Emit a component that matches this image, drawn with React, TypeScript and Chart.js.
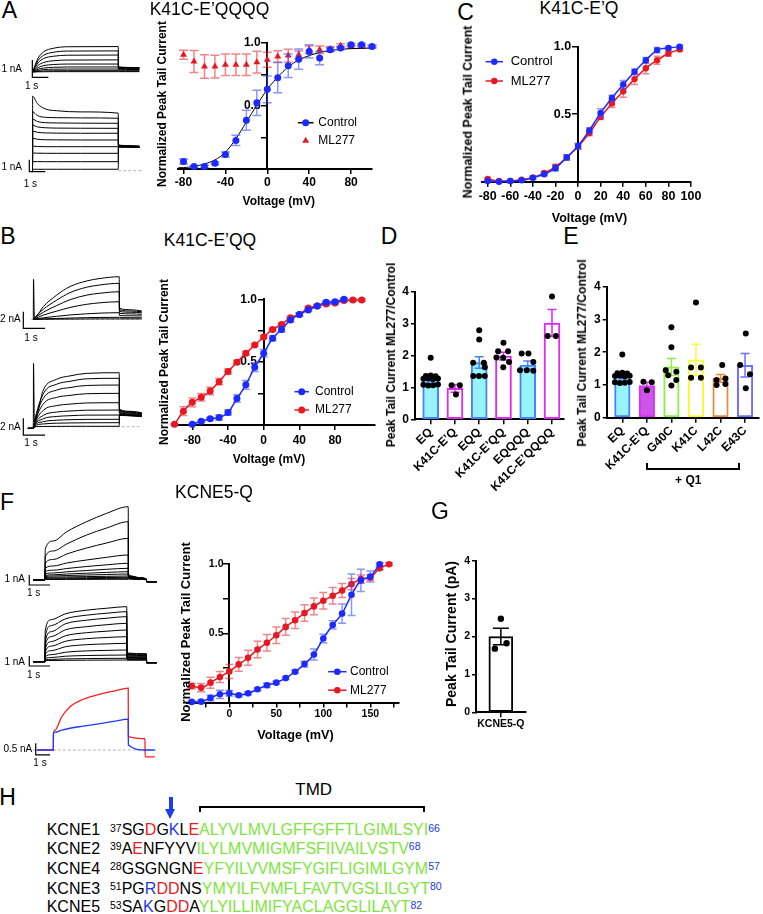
import React, { useEffect, useRef } from 'react';
import { Chart, registerables } from 'chart.js';

Chart.register(...registerables);

const FONT = '"Liberation Sans", Arial, Helvetica, sans-serif';
Chart.defaults.font.family = FONT;

const BLUE = 'rgb(28, 42, 255)';
const BLUE_ERR = 'rgba(60, 80, 255, 0.6)';
const RED = 'rgb(232, 24, 34)';
const RED_ERR = 'rgba(235, 50, 60, 0.6)';

// ---------------- Panel A ----------------
const A_V = [-80, -70, -60, -50, -40, -30, -20, -10, 0, 10, 20, 30, 40, 50, 60, 70, 80, 90, 100];
const A_CONTROL = [0.06, 0.02, 0.02, 0.045, 0.115, 0.227, 0.387, 0.525, 0.632, 0.725, 0.82, 0.872, 0.933, 0.88, 0.947, 0.96, 0.987, 0.987, 0.973];
const A_CONTROL_SEM = [0.02, 0.008, 0.01, 0.01, 0.02, 0.04, 0.08, 0.1, 0.107, 0.12, 0.093, 0.08, 0.053, 0.053, 0.015, 0.012, 0.01, 0.01, 0.01];
const A_ML277 = [0.907, 0.853, 0.813, 0.813, 0.827, 0.827, 0.827, 0.848, 0.867, 0.893, 0.9, 0.907, 0.947, 0.947, 0.953, 0.979, 0.97, 0.97, 0.97];
const A_ML277_SEM = [0.035, 0.088, 0.093, 0.09, 0.085, 0.085, 0.085, 0.087, 0.06, 0.045, 0.05, 0.03, 0.03, 0.03, 0.02, 0.015, 0.01, 0.01, 0.01];
const A_FIT_V = [-85, -80, -70, -60, -50, -40, -30, -20, -10, 0, 10, 20, 30, 40, 50, 60, 70, 80, 90, 100];
const A_FIT = [0.01, 0.011, 0.021, 0.04, 0.072, 0.133, 0.24, 0.373, 0.507, 0.632, 0.73, 0.81, 0.865, 0.9, 0.925, 0.94, 0.95, 0.955, 0.958, 0.96];
const A_X_TICKS = [-80, -40, 0, 40, 80];
const A_X_LABELS = ['-80', '-40', '0', '40', '80'];

// ---------------- Panel B ----------------
const B_CONTROL_V = [-80, -70, -60, -50, -40, -30, -20, -10, 0, 10, 20, 30, 40, 50, 60, 70, 80, 90];
const B_CONTROL = [0.005, 0.03, 0.05, 0.06, 0.1, 0.21, 0.32, 0.46, 0.57, 0.69, 0.76, 0.835, 0.88, 0.915, 0.947, 0.976, 0.98, 1.0];
const B_CONTROL_SEM = [0.005, 0.01, 0.01, 0.02, 0.02, 0.03, 0.035, 0.035, 0.03, 0.02, 0.02, 0.015, 0.01, 0.01, 0.01, 0.01, 0.01, 0.01];
const B_ML277_V = [-100, -90, -80, -70, -60, -50, -40, -30, -20, -10, 0, 10, 20, 30, 40, 50, 60, 70, 80, 90, 100, 110];
const B_ML277 = [0.005, 0.11, 0.18, 0.22, 0.27, 0.345, 0.425, 0.5, 0.57, 0.636, 0.7, 0.76, 0.8, 0.853, 0.88, 0.93, 0.947, 0.962, 0.97, 0.99, 0.995, 0.995];
const B_ML277_SEM = [0.005, 0.035, 0.035, 0.03, 0.03, 0.025, 0.02, 0.015, 0.015, 0.01, 0.01, 0.01, 0.01, 0.01, 0.01, 0.01, 0.01, 0.01, 0.01, 0.01, 0.01, 0.01];
const B_X_TICKS = [-80, -40, 0, 40, 80];
const B_X_LABELS = ['-80', '-40', '0', '40', '80'];

// ---------------- Panel C ----------------
const C_V = [-80, -70, -60, -50, -40, -30, -20, -10, 0, 10, 20, 30, 40, 50, 60, 70, 80, 90];
const C_CONTROL = [0.005, 0.0, 0.005, 0.01, 0.03, 0.055, 0.1, 0.18, 0.265, 0.38, 0.51, 0.62, 0.72, 0.815, 0.9, 0.975, 0.99, 1.0];
const C_CONTROL_SEM = [0.005, 0.005, 0.005, 0.005, 0.01, 0.01, 0.02, 0.02, 0.02, 0.02, 0.03, 0.02, 0.03, 0.02, 0.02, 0.02, 0.01, 0.01];
const C_ML277 = [0.02, 0.005, 0.005, 0.015, 0.03, 0.065, 0.11, 0.18, 0.26, 0.36, 0.48, 0.58, 0.67, 0.76, 0.84, 0.9, 0.95, 0.98];
const C_ML277_SEM = [0.01, 0.005, 0.005, 0.005, 0.01, 0.01, 0.02, 0.02, 0.02, 0.02, 0.02, 0.03, 0.045, 0.04, 0.04, 0.03, 0.02, 0.01];
const C_X_TICKS = [-80, -60, -40, -20, 0, 20, 40, 60, 80, 100];
const C_X_LABELS = ['-80', '-60', '-40', '-20', '0', '20', '40', '60', '80', '100'];

// ---------------- Panel F ----------------
const F_CONTROL_V = [-40, -30, -20, -10, 0, 10, 20, 30, 40, 50, 60, 70, 80, 90, 100, 110, 120, 130, 140, 150, 160];
const F_CONTROL = [0.005, 0.007, 0.034, 0.06, 0.067, 0.053, 0.067, 0.096, 0.125, 0.144, 0.177, 0.223, 0.278, 0.348, 0.463, 0.561, 0.643, 0.779, 0.883, 0.911, 1.0];
const F_CONTROL_SEM = [0.01, 0.01, 0.02, 0.03, 0.02, 0.01, 0.01, 0.01, 0.015, 0.01, 0.01, 0.01, 0.02, 0.04, 0.03, 0.03, 0.07, 0.15, 0.08, 0.04, 0.01];
const F_ML277_V = [-40, -30, -20, -10, 0, 10, 20, 30, 40, 50, 60, 70, 80, 90, 100, 110, 120, 130, 140, 150, 160, 170];
const F_ML277 = [0.12, 0.108, 0.144, 0.185, 0.225, 0.276, 0.324, 0.384, 0.432, 0.487, 0.547, 0.595, 0.647, 0.695, 0.736, 0.772, 0.81, 0.856, 0.892, 0.904, 0.97, 1.0];
const F_ML277_SEM = [0.02, 0.03, 0.04, 0.04, 0.05, 0.05, 0.055, 0.06, 0.06, 0.06, 0.06, 0.06, 0.06, 0.06, 0.06, 0.06, 0.05, 0.04, 0.03, 0.02, 0.01, 0.01];
const F_X_TICKS = [-25, 0, 25, 50, 75, 100, 125, 150, 175];
const F_X_LABELS = ['', '0', '', '50', '', '100', '', '150', ''];

const NORM_Y_TICKS = [0, 0.25, 0.5, 0.75, 1];
const NORM_Y_LABELS = ['', '', '0.5  ', '', '1.0  '];
const C_Y_TICKS = [0.5, 1];
const C_Y_LABELS = ['0.5  ', '1.0  '];

// ---------------- Panel D ----------------
const D_CATS = ['EQ', 'K41C-E\u2019Q', 'EQQ', 'K41C-E\u2019QQ', 'EQQQQ', 'K41C-E\u2019QQQQ'];
const D_MEANS = [1.25, 0.97, 1.78, 1.98, 1.7, 3.02];
const D_SEM = [0.07, 0.12, 0.18, 0.12, 0.13, 0.42];
const D_DOTS = [
  [0, 1.93], [-0.2, 1.36], [0, 1.37], [0.2, 1.35], [-0.3, 1.27], [-0.1, 1.29], [0.1, 1.26], [0.3, 1.28], [-0.3, 1.08], [-0.1, 1.06], [0.1, 1.07], [0.3, 1.09],
  [0.86, 1.07], [1.2, 1.07], [1.04, 0.78],
  [2, 2.79], [2, 2.5], [1.75, 1.77], [2.19, 1.77], [2.23, 1.63], [1.75, 1.36], [1.99, 1.36], [2.23, 1.36],
  [3, 2.4], [2.78, 2.13], [3.19, 2.13], [2.71, 1.94], [2.99, 1.93], [3.23, 1.8], [2.99, 1.63],
  [3.75, 2.06], [4.03, 2.06], [4.23, 1.8], [3.68, 1.54], [3.96, 1.54], [4.23, 1.52],
  [5, 3.85], [4.82, 2.61], [5.16, 2.61],
];

// ---------------- Panel E ----------------
const E_CATS = ['EQ', 'K41C-E\u2019Q', 'G40C', 'K41C', 'L42C', 'E43C'];
const E_MEANS = [1.26, 0.98, 1.55, 1.77, 1.2, 1.6];
const E_SEM = [0.07, 0.1, 0.26, 0.47, 0.12, 0.36];
const E_DOTS = [
  [0, 1.93], [-0.2, 1.36], [0, 1.37], [0.2, 1.35], [-0.3, 1.27], [-0.1, 1.29], [0.1, 1.26], [0.3, 1.28], [-0.3, 1.08], [-0.1, 1.06], [0.1, 1.07], [0.3, 1.09],
  [0.86, 1.1], [1.2, 1.08], [1.0, 0.84],
  [2, 2.76], [2, 2.15], [1.77, 1.45], [2.2, 1.4], [1.87, 1.3], [2.2, 1.15], [2, 0.98],
  [3, 3.52], [2.8, 1.53], [3.2, 1.53], [2.8, 1.22], [3.2, 1.22],
  [4.07, 1.61], [3.84, 1.15], [4.2, 1.2], [3.84, 1.0], [4.2, 1.03],
  [5.03, 2.57], [4.8, 1.61], [5.2, 1.33], [5.03, 0.9],
];
const BAR_Y_TICKS = [0, 1, 2, 3, 4];
const BAR_Y_LABELS = ['0', '1', '2', '3', '4'];

// ---------------- Panel G ----------------
const G_CATS = ['KCNE5-Q'];
const G_MEANS = [2.0];
const G_SEM = [0.22];
const G_DOTS = [[-0.24, 1.68], [0, 2.47], [0.23, 1.82]];

// ---------------- Current traces (time s, current nA) ----------------
const A_TOP_T = [0, 0.35, 0.7, 1.3, 2.2, 5.36, 5.37, 5.8, 6.68];
const A_TOP_SWEEPS = [
  [0, 0.8, 1.17, 1.37, 1.46, 1.47, 0.3, 0.27, 0.25],
  [0, 0.66, 0.97, 1.14, 1.21, 1.22, 0.29, 0.26, 0.24],
  [0, 0.53, 0.78, 0.91, 0.97, 0.98, 0.27, 0.25, 0.23],
  [0, 0.38, 0.55, 0.65, 0.69, 0.7, 0.25, 0.23, 0.21],
  [0, 0.25, 0.37, 0.43, 0.46, 0.46, 0.21, 0.2, 0.18],
  [0, 0.16, 0.23, 0.27, 0.29, 0.29, 0.16, 0.15, 0.14],
  [0, 0.09, 0.14, 0.16, 0.17, 0.17, 0.11, 0.1, 0.1],
  [0, 0.04, 0.06, 0.07, 0.075, 0.075, 0.06, 0.055, 0.05],
  [0, 0.01, 0.015, 0.02, 0.02, 0.02, 0.02, 0.02, 0.02],
];
const A_BOT_T = [0, 0.01, 0.3, 0.8, 1.5, 3, 5.36, 5.37, 5.8, 6.68];
const A_BOT_SWEEPS = [
  [0, 6.2, 5.6, 5.15, 5.0, 4.9, 4.8, 2.15, 2.1, 2.05],
  [0, 4.9, 4.6, 4.45, 4.42, 4.4, 4.37, 2.12, 2.08, 2.03],
  [0, 4.3, 4.1, 4.0, 3.98, 3.96, 3.95, 2.1, 2.06, 2.02],
  [0, 3.8, 3.65, 3.58, 3.55, 3.54, 3.53, 2.08, 2.05, 2.0],
  [0, 3.3, 3.2, 3.15, 3.13, 3.12, 3.12, 2.06, 2.03, 1.99],
  [0, 2.7, 2.62, 2.58, 2.57, 2.56, 2.56, 2.05, 2.02, 1.98],
  [0, 2.05, 2.02, 2.0, 2.0, 2.0, 2.0, 2.02, 2.0, 1.97],
  [0, 1.47, 1.46, 1.45, 1.45, 1.45, 1.45, 2.0, 1.98, 1.96],
  [0, 0.76, 0.76, 0.75, 0.75, 0.75, 0.75, 1.98, 1.97, 1.95],
  [0, 0.12, 0.12, 0.12, 0.12, 0.12, 0.12, 1.96, 1.96, 1.94],
];
const B_TOP_T = [0, 0.01, 0.05, 0.46, 1.08, 1.69, 2.46, 3.07, 3.96, 3.97, 4.5, 5.0];
const B_TOP_SWEEPS = [
  [0, 4.8, 0.2, 1.53, 2.91, 3.93, 4.6, 4.9, 5.11, 1.32, 1.15, 1.0],
  [0, 0, 0.15, 1.2, 2.3, 3.2, 3.85, 4.12, 4.32, 1.15, 1.0, 0.9],
  [0, 0, 0.1, 0.85, 1.65, 2.35, 2.9, 3.13, 3.31, 0.95, 0.85, 0.78],
  [0, 0, 0.05, 0.5, 0.98, 1.42, 1.8, 1.98, 2.11, 0.72, 0.65, 0.6],
  [0, 0, 0.02, 0.18, 0.36, 0.52, 0.66, 0.74, 0.79, 0.45, 0.42, 0.4],
  [0, 0, 0, 0.05, 0.1, 0.15, 0.2, 0.22, 0.24, 0.2, 0.19, 0.18],
  [0, 0, 0, 0.01, 0.02, 0.03, 0.04, 0.05, 0.05, 0.05, 0.05, 0.05],
];
const B_BOT_T = [-0.25, 0, 0.01, 0.05, 0.46, 1.08, 1.69, 2.46, 3.96, 3.97, 4.5, 5.0];
const B_BOT_SWEEPS = [
  [-0.2, -0.2, 7.6, 0.6, 4.4, 5.7, 6.1, 6.4, 6.48, 2.09, 1.85, 1.68],
  [-0.2, -0.2, -0.2, 0.5, 3.95, 5.1, 5.45, 5.75, 5.81, 2.0, 1.78, 1.62],
  [-0.2, -0.2, -0.2, 0.45, 3.4, 4.4, 4.7, 4.95, 5.0, 1.92, 1.72, 1.57],
  [-0.2, -0.2, -0.2, 0.35, 2.72, 3.52, 3.76, 3.96, 4.0, 1.82, 1.64, 1.5],
  [-0.2, -0.2, -0.2, 0.25, 1.96, 2.53, 2.71, 2.85, 2.88, 1.7, 1.55, 1.43],
  [-0.2, -0.2, -0.2, 0.18, 1.36, 1.76, 1.88, 1.98, 2.0, 1.6, 1.47, 1.37],
  [-0.2, -0.2, -0.2, 0.12, 0.95, 1.23, 1.32, 1.39, 1.4, 1.52, 1.41, 1.32],
  [-0.2, -0.2, -0.2, 0.08, 0.6, 0.78, 0.84, 0.88, 0.89, 1.45, 1.36, 1.28],
  [-0.2, -0.2, -0.2, 0.04, 0.33, 0.42, 0.45, 0.47, 0.48, 1.4, 1.32, 1.25],
  [-0.2, -0.2, -0.2, 0.0, 0.03, 0.04, 0.05, 0.05, 0.05, 1.35, 1.3, 1.22],
];
const F_TOP_T = [-0.58, 0, 0.01, 0.4, 1.05, 2.01, 2.98, 4.02, 4.03, 4.2, 4.5, 4.9, 4.91, 5.4];
const F_TOP_SWEEPS = [
  [0, 0, 3.07, 3.9, 4.83, 5.83, 6.67, 7.33, 0.6, 0.4, 0.25, 0.1, -0.17, -0.17],
  [0, 0, 2.33, 2.9, 3.6, 4.5, 5.2, 5.83, 0.55, 0.37, 0.23, 0.09, -0.17, -0.17],
  [0, 0, 1.67, 2.05, 2.6, 3.2, 3.7, 4.17, 0.5, 0.34, 0.21, 0.08, -0.17, -0.17],
  [0, 0, 1.17, 1.4, 1.7, 2.0, 2.27, 2.5, 0.45, 0.3, 0.19, 0.07, -0.17, -0.17],
  [0, 0, 0.83, 0.98, 1.15, 1.35, 1.52, 1.67, 0.4, 0.28, 0.17, 0.07, -0.17, -0.17],
  [0, 0, 0.6, 0.7, 0.82, 0.95, 1.07, 1.17, 0.36, 0.25, 0.15, 0.06, -0.17, -0.17],
  [0, 0, 0.45, 0.52, 0.6, 0.68, 0.76, 0.83, 0.32, 0.22, 0.13, 0.06, -0.17, -0.17],
  [0, 0, 0.35, 0.4, 0.45, 0.5, 0.55, 0.6, 0.28, 0.19, 0.12, 0.05, -0.17, -0.17],
  [0, 0, 0.25, 0.28, 0.31, 0.34, 0.37, 0.4, 0.24, 0.17, 0.1, 0.05, -0.17, -0.17],
  [0, 0, 0.17, 0.19, 0.21, 0.23, 0.25, 0.27, 0.2, 0.14, 0.09, 0.04, -0.17, -0.17],
  [0, 0, 0.1, 0.11, 0.13, 0.14, 0.16, 0.17, 0.15, 0.11, 0.07, 0.03, -0.17, -0.17],
  [0, 0, 0.05, 0.05, 0.06, 0.06, 0.07, 0.07, 0.1, 0.08, 0.05, 0.03, -0.17, -0.17],
];
const F_MID_T = [-0.58, 0, 0.01, 0.3, 1.0, 2.0, 3.0, 3.95, 3.96, 4.9, 4.91, 5.4];
const F_MID_SWEEPS = [
  [0, 0, 3.1, 4.2, 4.8, 5.15, 5.35, 5.5, 0.87, 0.8, -0.1, -0.1],
  [0, 0, 2.5, 3.6, 4.3, 4.65, 4.85, 5.0, 0.8, 0.74, -0.1, -0.1],
  [0, 0, 2.0, 3.0, 3.8, 4.15, 4.35, 4.5, 0.73, 0.68, -0.1, -0.1],
  [0, 0, 1.6, 2.5, 3.2, 3.5, 3.7, 3.84, 0.66, 0.61, -0.1, -0.1],
  [0, 0, 1.25, 2.0, 2.6, 2.9, 3.05, 3.17, 0.58, 0.54, -0.1, -0.1],
  [0, 0, 0.95, 1.55, 2.05, 2.3, 2.42, 2.5, 0.5, 0.47, -0.1, -0.1],
  [0, 0, 0.7, 1.1, 1.5, 1.7, 1.78, 1.84, 0.42, 0.4, -0.1, -0.1],
  [0, 0, 0.45, 0.7, 0.95, 1.08, 1.13, 1.17, 0.34, 0.32, -0.1, -0.1],
  [0, 0, 0.3, 0.42, 0.55, 0.62, 0.65, 0.67, 0.27, 0.26, -0.1, -0.1],
  [0, 0, 0.18, 0.23, 0.28, 0.31, 0.33, 0.34, 0.2, 0.2, -0.1, -0.1],
  [0, 0, 0.1, 0.12, 0.14, 0.15, 0.16, 0.17, 0.15, 0.15, -0.1, -0.1],
];
const F_BOT_T = [-1.16, 0, 0.01, 0.12, 0.59, 1.17, 2.1, 3.27, 4.31, 5.24, 5.25, 6.41, 6.42, 7.1];
const F_BOT_CONTROL = [0, 0, 0.71, 0.76, 0.85, 0.93, 1.02, 1.13, 1.23, 1.32, 0.21, 0.0, 0.0, 0.0];
const F_BOT_ML277 = [0, 0, 0.71, 0.85, 1.42, 1.85, 2.17, 2.39, 2.53, 2.64, 0.57, 0.48, -0.29, -0.29];

// ---------------- Panel H ----------------
const H_NAMES = ['KCNE1', 'KCNE2', 'KCNE4', 'KCNE3', 'KCNE5'];
const H_START = ['37', '39', '28', '51', '53'];
const H_END = ['66', '68', '57', '80', '82'];
const H_SEQ = [
  [['SG', 'k'], ['D', 'r'], ['G', 'k'], ['K', 'b'], ['L', 'k'], ['E', 'r'], ['ALYVLMVLGFFGFFTLGIMLSYI', 'g']],
  [['A', 'k'], ['E', 'r'], ['NFYYV', 'k'], ['ILYLMVMIGMFSFIIVAILVSTV', 'g']],
  [['GSGNGN', 'k'], ['E', 'r'], ['YFYILVVMSFYGIFLIGIMLGYM', 'g']],
  [['PG', 'k'], ['R', 'b'], ['DD', 'r'], ['NS', 'k'], ['YMYILFVMFLFAVTVGSLILGYT', 'g']],
  [['SA', 'k'], ['K', 'b'], ['G', 'k'], ['DD', 'r'], ['A', 'k'], ['YLYILLIMIFYACLAGGLILAYT', 'g']],
];
const H_Y = [830, 848.5, 868.5, 888.5, 907];
const SEQ_COLORS: any = { k: '#000', r: 'rgb(232, 28, 36)', b: 'rgb(30, 55, 235)', g: 'rgb(128, 228, 62)' };

// ---------------- plugins ----------------
function drawErrors(chart: any, index: number, after: boolean) {
  const ds = chart.data.datasets[index];
  if (!ds.errors || !!ds.errorsAfter !== after) return;
  const meta = chart.getDatasetMeta(index);
  const ys = chart.scales[meta.yAxisID];
  const ctx = chart.ctx;
  ctx.save();
  ctx.lineWidth = ds.errorWidth || 1.5;
  meta.data.forEach((el: any, i: number) => {
    const e = ds.errors[i];
    if (!e) return;
    const d = ds.data[i];
    const v = typeof d === 'number' ? d : d.y;
    const x = el.x;
    const yHi = ys.getPixelForValue(v + e);
    const yLo = ys.getPixelForValue(v - e);
    const h = (ds.errorCap || 8) / 2;
    ctx.strokeStyle = Array.isArray(ds.errorColor) ? ds.errorColor[i] : ds.errorColor;
    ctx.beginPath();
    ctx.moveTo(x, yLo); ctx.lineTo(x, yHi);
    ctx.moveTo(x - h, yHi); ctx.lineTo(x + h, yHi);
    ctx.moveTo(x - h, yLo); ctx.lineTo(x + h, yLo);
    ctx.stroke();
  });
  ctx.restore();
}

const errorBarsPlugin = {
  id: 'errorBars',
  beforeDatasetDraw(chart: any, args: any) { drawErrors(chart, args.index, false); },
  afterDatasetDraw(chart: any, args: any) { drawErrors(chart, args.index, true); },
};

function drawMarker(ctx: any, style: string, x: number, y: number, r: number) {
  ctx.beginPath();
  if (style === 'triangle') {
    let a = 0;
    ctx.moveTo(x + Math.sin(a) * r, y - Math.cos(a) * r);
    a += (2 * Math.PI) / 3;
    ctx.lineTo(x + Math.sin(a) * r, y - Math.cos(a) * r);
    a += (2 * Math.PI) / 3;
    ctx.lineTo(x + Math.sin(a) * r, y - Math.cos(a) * r);
    ctx.closePath();
  } else {
    ctx.arc(x, y, r, 0, Math.PI * 2);
  }
  ctx.fill();
}

const insideLegendPlugin = {
  id: 'insideLegend',
  afterDraw(chart: any, _args: any, opts: any) {
    if (!opts || !opts.sets) return;
    const ctx = chart.ctx;
    ctx.save();
    const sets = opts.sets;
    for (let k = 0; k < sets.length; k++) {
      const ds = chart.data.datasets[sets[k]];
      const cx = opts.x - opts.offX;
      const cy = opts.y - opts.offY + k * opts.gap;
      if (opts.lines[k]) {
        ctx.strokeStyle = opts.lineColors[k] || ds.borderColor;
        ctx.lineWidth = 1.5;
        ctx.beginPath();
        ctx.moveTo(cx - opts.lineHalf, cy);
        ctx.lineTo(cx + opts.lineHalf, cy);
        ctx.stroke();
      }
      ctx.fillStyle = ds.pointBackgroundColor;
      drawMarker(ctx, ds.pointStyle, cx, cy, ds.pointRadius);
      ctx.fillStyle = '#000';
      ctx.font = `${opts.size}px ${FONT}`;
      ctx.textAlign = 'left';
      ctx.textBaseline = 'middle';
      ctx.fillText(ds.label, opts.textX - opts.offX, cy);
    }
    ctx.restore();
  },
};

// ---------------- config builders ----------------
// padding so that the chart area lands exactly on `area`, given fixed axis sizes
function padFor(box: any, area: any, yw: number, xh: number) {
  return {
    left: area.l - box.x - yw,
    top: area.t - box.y,
    right: box.x + box.w - area.r,
    bottom: box.y + box.h - area.b - xh,
  };
}

function pts(xs: number[], ys: number[]) {
  return xs.map((x, i) => ({ x, y: ys[i] }));
}

function markerSet(label: string, xs: number[], ys: number[], sem: number[], color: string, errColor: string, style: string, radius: number, line: boolean, order: number, cap: number) {
  return {
    label,
    data: pts(xs, ys),
    showLine: line,
    borderColor: color,
    borderWidth: 1.5,
    backgroundColor: color,
    pointBackgroundColor: color,
    pointBorderColor: color,
    pointBorderWidth: 0,
    pointStyle: style,
    pointRadius: radius,
    cubicInterpolationMode: 'monotone',
    errors: sem,
    errorColor: errColor,
    errorCap: cap,
    errorWidth: 1.5,
    order,
    clip: false,
  };
}

function xyConfig(p: any) {
  const tickFont = { family: FONT, size: p.tickSize, weight: 'bold' };
  return {
    type: 'line',
    data: { datasets: p.datasets },
    options: {
      responsive: false,
      animation: false,
      events: [],
      layout: { padding: padFor(p.box, p.area, 0, p.xh) },
      plugins: {
        legend: { display: false },
        tooltip: { enabled: false },
        insideLegend: { ...p.legend, offX: p.box.x, offY: p.box.y },
      },
      scales: {
        x: {
          type: 'linear',
          position: 'bottom',
          min: p.xMin,
          max: p.xMax,
          bounds: 'data',
          afterBuildTicks: (s: any) => { s.ticks = p.xTicks.map((v: number) => ({ value: v })); },
          afterFit: (s: any) => { s.height = p.xh; },
          ticks: { callback: (_v: any, i: number) => p.xLabels[i], font: tickFont, color: '#000', padding: p.xPad, maxRotation: 0, minRotation: 0, autoSkip: false },
          grid: { drawOnChartArea: false, drawTicks: true, tickLength: 5, color: '#000', lineWidth: 1.5 },
          border: { display: true, color: '#000', width: 2 },
        },
        y: {
          type: 'linear',
          position: { x: 0 },
          min: 0,
          max: 1,
          bounds: 'data',
          afterBuildTicks: (s: any) => { s.ticks = p.yTicks.map((v: number) => ({ value: v })); },
          afterFit: (s: any) => { s.width = 0; },
          ticks: { callback: (_v: any, i: number) => p.yLabels[i], font: tickFont, color: '#000', autoSkip: false },
          grid: { drawOnChartArea: false, drawTicks: true, tickLength: 5, color: '#000', lineWidth: 1.5 },
          border: { display: true, color: '#000', width: 2 },
        },
      },
    },
    plugins: [errorBarsPlugin, insideLegendPlugin],
  };
}

function barConfig(p: any) {
  const tickFont = { family: FONT, size: p.tickSize, weight: 'bold' };
  return {
    type: 'bar',
    data: {
      datasets: [
        {
          type: 'scatter',
          data: p.dots.map((d: number[]) => ({ x: d[0], y: d[1] })),
          pointRadius: p.dotR,
          pointBackgroundColor: '#000',
          pointBorderWidth: 0,
          order: 0,
          clip: false,
        },
        {
          type: 'bar',
          data: p.means.map((v: number, i: number) => ({ x: i, y: v })),
          backgroundColor: p.fills,
          borderColor: p.borders,
          borderWidth: 2,
          borderSkipped: false,
          barThickness: p.barW,
          errors: p.sem,
          errorColor: p.borders,
          errorCap: p.cap,
          errorWidth: 1.5,
          errorsAfter: true,
          order: 1,
        },
      ],
    },
    options: {
      responsive: false,
      animation: false,
      events: [],
      layout: { padding: padFor(p.box, p.area, p.yw, p.xh) },
      plugins: { legend: { display: false }, tooltip: { enabled: false } },
      scales: {
        x: {
          type: 'linear',
          min: p.xMin,
          max: p.xMax,
          offset: false,
          bounds: 'data',
          afterBuildTicks: (s: any) => { s.ticks = p.cats.map((_c: string, i: number) => ({ value: i })); },
          afterFit: (s: any) => { s.height = p.xh; },
          ticks: { callback: (_v: any, i: number) => p.cats[i], font: tickFont, color: '#000', minRotation: p.rot, maxRotation: p.rot, autoSkip: false, padding: p.xPad },
          grid: { offset: false, drawOnChartArea: false, drawTicks: true, tickLength: 5, color: '#000', lineWidth: 1.5 },
          border: { display: true, color: '#000', width: 2 },
        },
        y: {
          type: 'linear',
          position: 'left',
          min: 0,
          max: 4,
          bounds: 'data',
          afterBuildTicks: (s: any) => { s.ticks = BAR_Y_TICKS.map((v) => ({ value: v })); },
          afterFit: (s: any) => { s.width = p.yw; },
          ticks: { callback: (_v: any, i: number) => BAR_Y_LABELS[i], font: tickFont, color: '#000', padding: 2, autoSkip: false },
          grid: { drawOnChartArea: false, drawTicks: true, tickLength: 4, color: '#000', lineWidth: 1.5 },
          border: { display: true, color: '#000', width: 2 },
        },
      },
    },
    plugins: [errorBarsPlugin],
  };
}

function traceConfig(tr: any) {
  const { box, x0, y0, sx, sy } = tr;
  const sets: any[] = [];
  tr.sweeps.forEach((vals: number[], k: number) => {
    sets.push({
      data: pts(tr.t, vals),
      borderColor: tr.colors ? tr.colors[k] : '#000',
      borderWidth: tr.lw || 1,
      pointRadius: 0,
      cubicInterpolationMode: 'monotone',
      clip: false,
    });
  });
  if (tr.dash) {
    sets.push({
      data: [{ x: tr.dash[0], y: 0 }, { x: tr.dash[1], y: 0 }],
      borderColor: '#b4b4b4',
      borderWidth: 1,
      borderDash: [3, 2],
      pointRadius: 0,
      clip: false,
      order: 5,
    });
  }
  const [bt, bi, bdt, bdi] = tr.bar;
  sets.push({
    data: [{ x: bt, y: bi + bdi }, { x: bt, y: bi }, { x: bt + bdt, y: bi }],
    borderColor: '#000',
    borderWidth: 1.2,
    pointRadius: 0,
    tension: 0,
    clip: false,
  });
  return {
    type: 'line',
    data: { datasets: sets },
    options: {
      responsive: false,
      animation: false,
      events: [],
      layout: { padding: 0 },
      plugins: { legend: { display: false }, tooltip: { enabled: false } },
      scales: {
        x: { type: 'linear', display: false, min: (box.x - x0) / sx, max: (box.x + box.w - x0) / sx },
        y: { type: 'linear', display: false, min: (y0 - box.y - box.h) / sy, max: (y0 - box.y) / sy },
      },
    },
  };
}

// ---------------- chart definitions ----------------
const CHARTS: any[] = [
  {
    box: { x: 130, y: 25, w: 255, h: 178 },
    make: () => xyConfig({
      box: { x: 130, y: 25, w: 255, h: 178 }, xh: 28,
      area: { l: 178.3, r: 372, t: 43, b: 169 },
      xMin: -85, xMax: 100, xTicks: A_X_TICKS, xLabels: A_X_LABELS, xPad: 1,
      yTicks: NORM_Y_TICKS, yLabels: NORM_Y_LABELS, tickSize: 12,
      datasets: [
        markerSet('Control', A_V, A_CONTROL, A_CONTROL_SEM, BLUE, BLUE_ERR, 'circle', 3.5, false, 0, 9),
        { data: pts(A_FIT_V, A_FIT), borderColor: '#000', borderWidth: 1, pointRadius: 0, cubicInterpolationMode: 'monotone', order: 1, clip: false },
        markerSet('ML277', A_V, A_ML277, A_ML277_SEM, RED, RED_ERR, 'triangle', 4, false, 2, 9),
      ],
      legend: { sets: [0, 2], lines: [true, false], lineColors: ['#000', null], x: 305.7, textX: 318.3, y: 122.7, gap: 18, lineHalf: 7.8, size: 12 },
    }),
  },
  {
    box: { x: 140, y: 282, w: 250, h: 170 },
    make: () => xyConfig({
      box: { x: 140, y: 282, w: 250, h: 170 }, xh: 24,
      area: { l: 171.8, r: 375.2, t: 299.3, b: 425 },
      xMin: -103, xMax: 125, xTicks: B_X_TICKS, xLabels: B_X_LABELS, xPad: 3.5,
      yTicks: NORM_Y_TICKS, yLabels: NORM_Y_LABELS, tickSize: 12,
      datasets: [
        markerSet('Control', B_CONTROL_V, B_CONTROL, B_CONTROL_SEM, BLUE, BLUE_ERR, 'circle', 3.5, true, 0, 8),
        markerSet('ML277', B_ML277_V, B_ML277, B_ML277_SEM, RED, RED_ERR, 'circle', 3.5, true, 1, 8),
      ],
      legend: { sets: [0, 1], lines: [true, true], lineColors: [null, null], x: 301.7, textX: 315, y: 391.7, gap: 18.3, lineHalf: 7.2, size: 12 },
    }),
  },
  {
    box: { x: 450, y: 30, w: 260, h: 180 },
    make: () => xyConfig({
      box: { x: 450, y: 30, w: 260, h: 180 }, xh: 24,
      area: { l: 482.05, r: 691, t: 46.7, b: 181.7 },
      xMin: -85, xMax: 100, xTicks: C_X_TICKS, xLabels: C_X_LABELS, xPad: 2.5,
      yTicks: C_Y_TICKS, yLabels: C_Y_LABELS, tickSize: 12.5,
      datasets: [
        markerSet('Control', C_V, C_CONTROL, C_CONTROL_SEM, BLUE, BLUE_ERR, 'circle', 3.2, true, 0, 7),
        markerSet('ML277', C_V, C_ML277, C_ML277_SEM, RED, RED_ERR, 'circle', 3.2, true, 1, 7),
      ],
      legend: { sets: [0, 1], lines: [true, true], lineColors: [null, null], x: 494.3, textX: 510.7, y: 61.7, gap: 19.3, lineHalf: 8.7, size: 13 },
    }),
  },
  {
    box: { x: 160, y: 545, w: 250, h: 182 },
    make: () => xyConfig({
      box: { x: 160, y: 545, w: 250, h: 182 }, xh: 20,
      area: { l: 187, r: 398.5, t: 564.2, b: 702.6 },
      xMin: -45, xMax: 180, xTicks: F_X_TICKS, xLabels: F_X_LABELS, xPad: 0,
      yTicks: NORM_Y_TICKS, yLabels: NORM_Y_LABELS, tickSize: 10.5,
      datasets: [
        markerSet('Control', F_CONTROL_V, F_CONTROL, F_CONTROL_SEM, BLUE, BLUE_ERR, 'circle', 3.3, true, 0, 8),
        markerSet('ML277', F_ML277_V, F_ML277, F_ML277_SEM, RED, RED_ERR, 'circle', 3.3, true, 1, 8),
      ],
      legend: { sets: [0, 1], lines: [true, true], lineColors: [null, null], x: 337.3, textX: 350, y: 671.7, gap: 18.5, lineHalf: 9.2, size: 12 },
    }),
  },
  {
    box: { x: 380, y: 276, w: 190, h: 225 },
    make: () => barConfig({
      box: { x: 380, y: 276, w: 190, h: 225 }, yw: 25, xh: 78,
      area: { l: 415, r: 563.3, t: 291.7, b: 419.3 },
      xMin: -0.647, xMax: 5.466, cats: D_CATS, rot: 45, xPad: 1, tickSize: 12,
      means: D_MEANS, sem: D_SEM, dots: D_DOTS, dotR: 3, barW: 16, cap: 9,
      fills: ['rgb(150, 244, 250)', '#fff', 'rgb(150, 244, 250)', '#fff', 'rgb(150, 244, 250)', '#fff'],
      borders: ['rgb(70, 130, 255)', 'rgb(225, 40, 240)', 'rgb(70, 130, 255)', 'rgb(225, 40, 240)', 'rgb(70, 130, 255)', 'rgb(225, 40, 240)'],
    }),
  },
  {
    box: { x: 572, y: 272, w: 191, h: 229 }, 
    make: () => barConfig({
      box: { x: 572, y: 272, w: 191, h: 229 }, yw: 25, xh: 80,
      area: { l: 606.7, r: 758.3, t: 286.7, b: 417.7 },
      xMin: -0.636, xMax: 5.54, cats: E_CATS, rot: 45, xPad: 1, tickSize: 12,
      means: E_MEANS, sem: E_SEM, dots: E_DOTS, dotR: 3, barW: 15.5, cap: 9,
      fills: ['rgb(150, 244, 250)', 'rgb(205, 85, 235)', '#fff', '#fff', '#fff', '#fff'],
      borders: ['rgb(70, 130, 255)', 'rgb(215, 50, 240)', 'rgb(140, 240, 70)', 'rgb(250, 250, 60)', 'rgb(235, 140, 55)', 'rgb(110, 110, 255)'],
    }),
  },
  {
    box: { x: 452, y: 546, w: 95, h: 195 },
    make: () => barConfig({
      box: { x: 452, y: 546, w: 95, h: 195 }, yw: 20, xh: 25,
      area: { l: 476, r: 525.7, t: 560.7, b: 712.3 },
      xMin: -1, xMax: 1, cats: G_CATS, rot: 0, xPad: 1, tickSize: 10.5,
      means: G_MEANS, sem: G_SEM, dots: G_DOTS, dotR: 3.2, barW: 24, cap: 16,
      fills: ['#fff'], borders: ['#000'],
    }),
  },
];

const TRACES: any[] = [
  { box: { x: 18, y: 36, w: 135, h: 48 }, x0: 32.5, y0: 72, sx: 16, sy: 17.3, t: A_TOP_T, sweeps: A_TOP_SWEEPS, bar: [-0.01, -0.31, 1, 1] },
  { box: { x: 18, y: 90, w: 135, h: 88 }, x0: 32.5, y0: 170.7, sx: 16, sy: 12, t: A_BOT_T, sweeps: A_BOT_SWEEPS, bar: [-0.2, -0.08, 1, 1], dash: [5.36, 6.9] },
  { box: { x: 15, y: 272, w: 135, h: 62 }, x0: 33.3, y0: 319.3, sx: 21.7, sy: 8.33, t: B_TOP_T, sweeps: B_TOP_SWEEPS, bar: [-0.46, -1.08, 1, 2], dash: [-0.1, 5.0] },
  { box: { x: 15, y: 355, w: 135, h: 85 }, x0: 33.3, y0: 426.7, sx: 21.7, sy: 8.33, t: B_BOT_T, sweeps: B_BOT_SWEEPS, bar: [-0.46, -1.0, 1, 2], dash: [-0.07, 5.0] },
  { box: { x: 22, y: 500, w: 145, h: 90 }, x0: 45, y0: 580, sx: 20.7, sy: 10, t: F_TOP_T, sweeps: F_TOP_SWEEPS, bar: [-0.76, -0.5, 1, 1] },
  { box: { x: 22, y: 598, w: 145, h: 73 }, x0: 45, y0: 661.7, sx: 20.7, sy: 10, t: F_MID_T, sweeps: F_MID_SWEEPS, bar: [-0.76, -0.43, 1, 1] },
  { box: { x: 22, y: 680, w: 145, h: 80 }, x0: 53.3, y0: 750, sx: 14.3, sy: 23.4, t: F_BOT_T, sweeps: [F_BOT_CONTROL, F_BOT_ML277], colors: ['rgb(30, 60, 255)', 'rgb(255, 30, 30)'], lw: 1.3, bar: [-1.23, -0.21, 1, 0.5], dash: [-1.43, 7.3] },
];

function ChartBox({ box, make }: any) {
  const ref = useRef<HTMLCanvasElement | null>(null);
  useEffect(() => {
    const chart = new Chart(ref.current as HTMLCanvasElement, make());
    return () => chart.destroy();
  }, []);
  return (
    <canvas
      ref={ref}
      width={box.w}
      height={box.h}
      style={{ position: 'absolute', left: box.x, top: box.y, width: box.w, height: box.h }}
    />
  );
}

function Txt({ x, y, s, size = 12, bold = false, align = 'c', rot = false, color = '#000' }: any) {
  const tx = align === 'c' ? '-50%' : align === 'r' ? '-100%' : '0%';
  const transform = rot ? 'translate(-50%, -50%) rotate(-90deg)' : `translate(${tx}, -50%)`;
  return (
    <div
      style={{
        position: 'absolute', left: x, top: y, transform, fontFamily: FONT, fontSize: size,
        fontWeight: bold ? 700 : 400, lineHeight: 1, whiteSpace: 'nowrap', color,
      }}
    >
      {s}
    </div>
  );
}

export default function App() {
  return (
    <div style={{ position: 'absolute', left: 0, top: 0, width: 763, height: 914, background: '#fff', overflow: 'hidden', fontFamily: FONT }}>
      {TRACES.map((tr, i) => (
        <ChartBox key={'t' + i} box={tr.box} make={() => traceConfig(tr)} />
      ))}
      {CHARTS.map((c, i) => (
        <ChartBox key={'c' + i} box={c.box} make={c.make} />
      ))}

      {/* panel letters */}
      <Txt x={9.5} y={10} s="A" size={23} />
      <Txt x={8} y={235.5} s="B" size={23} />
      <Txt x={465.5} y={12.3} s="C" size={23} />
      <Txt x={389} y={235.5} s="D" size={23} />
      <Txt x={571} y={236} s="E" size={23} />
      <Txt x={7} y={501.5} s="F" size={23} />
      <Txt x={440} y={511} s="G" size={23} />
      <Txt x={7.5} y={796.5} s="H" size={23} />

      {/* titles */}
      <Txt x={209.5} y={9.5} s={'K41C-E\u2019QQQQ'} size={17.5} />
      <Txt x={210} y={241} s={'K41C-E\u2019QQ'} size={17.5} />
      <Txt x={579} y={9} s={'K41C-E\u2019Q'} size={17.5} />
      <Txt x={214} y={493} s="KCNE5-Q" size={17.5} />

      {/* axis titles */}
      <Txt x={278.8} y={200.5} s="Voltage (mV)" size={12} bold />
      <Txt x={162} y={104} s="Normalized Peak Tail Current" size={12} bold rot />
      <Txt x={269} y={459} s="Voltage (mV)" size={12} bold />
      <Txt x={164} y={361.7} s="Normalized Peak Tail Current" size={12} bold rot />
      <Txt x={589.5} y={218} s="Voltage (mV)" size={12.5} bold />
      <Txt x={467.7} y={112} s="Normalized Peak Tail Current" size={12.5} bold rot />
      <Txt x={391} y={355} s="Peak Tail Current ML277/Control" size={12} bold rot />
      <Txt x={581.7} y={353.3} s="Peak Tail Current ML277/Control" size={12.2} bold rot />
      <Txt x={295.5} y={735} s="Voltage (mV)" size={12.7} bold />
      <Txt x={185} y={632} s="Normalized Peak Tail Current" size={13} bold rot />
      <Txt x={450.7} y={634} s="Peak Tail Current (pA)" size={14} bold rot />
      <Txt x={688.3} y={480} s="+ Q1" size={12} bold />
      <div style={{ position: 'absolute', left: 645.7, top: 462.7, width: 94.3, height: 7.7, boxSizing: 'border-box', borderLeft: '2px solid #000', borderRight: '2px solid #000', borderBottom: '2px solid #000' }} />

      {/* trace scale labels */}
      <Txt x={22} y={69} s="1 nA" size={10} align="r" />
      <Txt x={31.7} y={86} s="1 s" size={10} />
      <Txt x={22} y={166.7} s="1 nA" size={10} align="r" />
      <Txt x={30.3} y={184.3} s="1 s" size={10} />
      <Txt x={20.7} y={319} s="2 nA" size={10} align="r" />
      <Txt x={31} y={338.3} s="1 s" size={10} />
      <Txt x={20.7} y={426.7} s="2 nA" size={10} align="r" />
      <Txt x={31} y={443.3} s="1 s" size={10} />
      <Txt x={25} y={579.3} s="1 nA" size={10} align="r" />
      <Txt x={33.7} y={593.3} s="1 s" size={10} />
      <Txt x={25} y={661.7} s="1 nA" size={10} align="r" />
      <Txt x={33.7} y={675} s="1 s" size={10} />
      <Txt x={32.3} y={749.3} s="0.5 nA" size={10} align="r" />
      <Txt x={40} y={763.3} s="1 s" size={10} />

      {/* panel H */}
      <Txt x={313.7} y={789} s="TMD" size={17} />
      <div style={{ position: 'absolute', left: 199.3, top: 806, width: 225.7, height: 5.7, boxSizing: 'border-box', borderTop: '2.7px solid #000', borderLeft: '2.7px solid #000', borderRight: '2.7px solid #000' }} />
      <div style={{ position: 'absolute', left: 169.3, top: 797, width: 3.3, height: 13, background: 'rgb(30, 60, 240)' }} />
      <div style={{ position: 'absolute', left: 165.1, top: 809, width: 0, height: 0, borderLeft: '5.9px solid transparent', borderRight: '5.9px solid transparent', borderTop: '10.3px solid rgb(30, 60, 240)' }} />
      {H_NAMES.map((n, r) => (
        <React.Fragment key={n}>
          <Txt x={46.7} y={H_Y[r]} s={n} size={16} align="l" />
          <div style={{ position: 'absolute', left: 110, top: H_Y[r], transform: 'translateY(-50%)', fontFamily: FONT, fontSize: 16, lineHeight: 1, whiteSpace: 'nowrap' }}>
            <span style={{ fontSize: 10.5, position: 'relative', top: -3.5 }}>{H_START[r]}</span>
            {H_SEQ[r].map((seg: any, k: number) => (
              <span key={k} style={{ color: SEQ_COLORS[seg[1]] }}>{seg[0]}</span>
            ))}
            <span style={{ fontSize: 10.5, position: 'relative', top: -3.5, color: SEQ_COLORS.b }}>{H_END[r]}</span>
          </div>
        </React.Fragment>
      ))}
    </div>
  );
}
